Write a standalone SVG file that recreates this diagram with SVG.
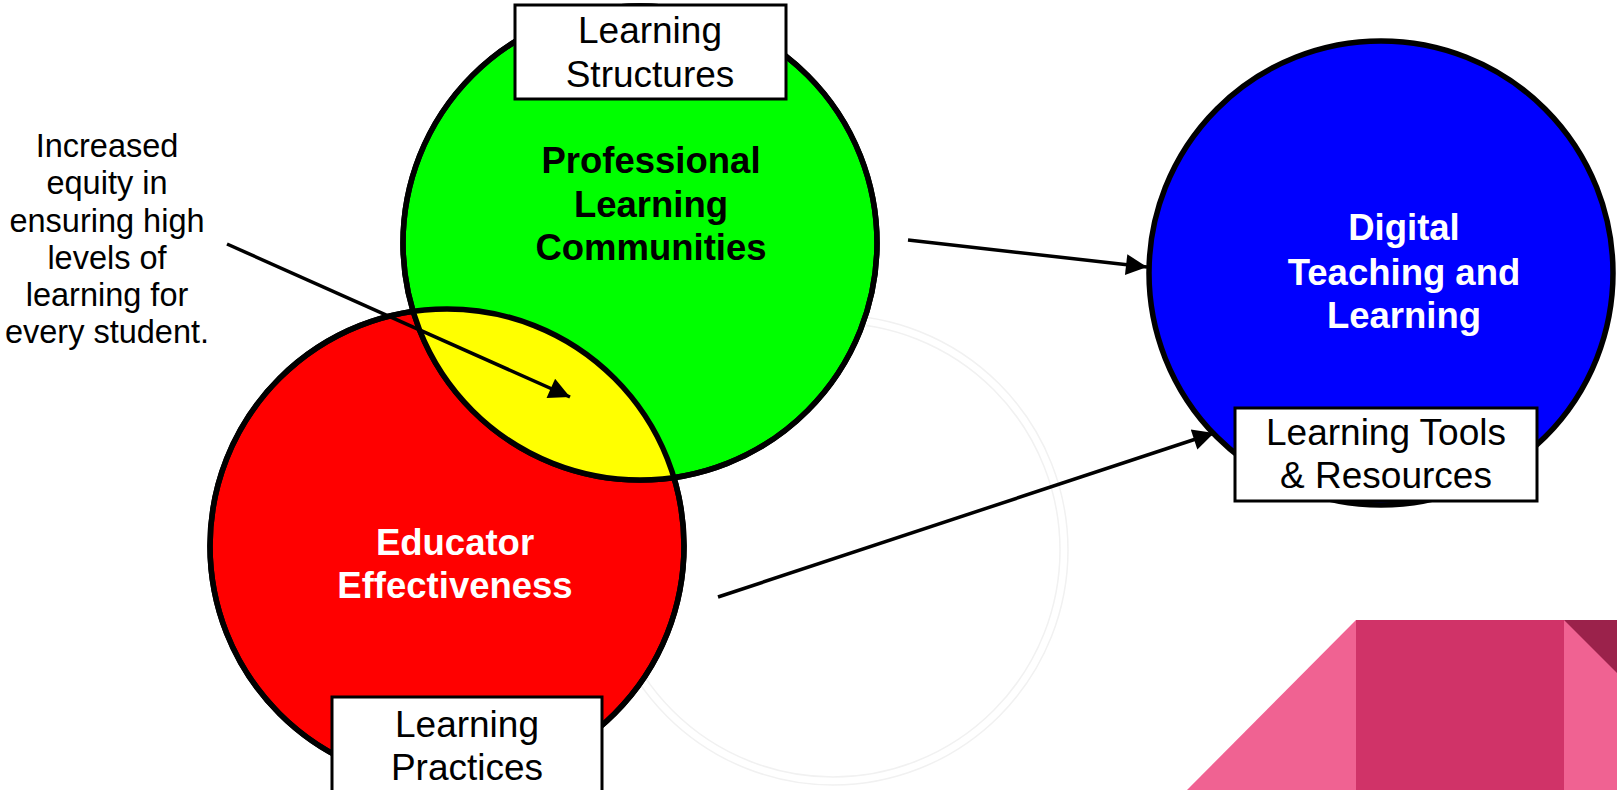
<svg xmlns="http://www.w3.org/2000/svg" width="1617" height="790" viewBox="0 0 1617 790">
<style>
  text { font-family: "Liberation Sans", Arial, sans-serif; text-anchor: middle; }
  .circ { stroke: #000; stroke-width: 5.5; }
  .outline { fill: none; stroke: #000; stroke-width: 5.5; }
  .box { fill: #fff; stroke: #000; stroke-width: 3; }
  .lbl { font-size: 37px; fill: #000; }
  .title { font-size: 36.5px; font-weight: bold; }
  .note { font-size: 32.5px; fill: #000; }
  .conn { stroke: #000; stroke-width: 3.5; fill: none; marker-end: url(#arrow); }
  .ghost { fill: none; stroke: #f1f1f1; stroke-width: 1.5; }
</style>
<defs>
  <marker id="arrow" viewBox="0 0 10 10" refX="10" refY="5" markerWidth="8" markerHeight="6" markerUnits="strokeWidth" orient="auto">
    <path d="M0,0 L10,5 L0,10 z" fill="#000"/>
  </marker>
  <clipPath id="clipRed"><circle cx="447" cy="546" r="237"/></clipPath>
</defs>
<rect width="1617" height="790" fill="#fff"/>

<g id="decor">
  <circle class="ghost" cx="833" cy="550" r="227"/>
  <circle class="ghost" cx="833" cy="550" r="235" stroke="#f6ecec"/>
  <polygon points="1187,790 1356,620 1356,790" fill="#F06292"/>
  <rect x="1356" y="620" width="208" height="170" fill="#D03368"/>
  <rect x="1564" y="620" width="53" height="170" fill="#F06292"/>
  <polygon points="1564,620 1617,620 1617,673" fill="#9B224B"/>
</g>

<g id="educator-effectiveness">
  <circle class="circ" cx="447" cy="546" r="237" fill="#ff0000"/>
</g>
<g id="professional-learning-communities">
  <circle class="circ" cx="640" cy="243" r="237" fill="#00ff00"/>
</g>
<g id="equity-overlap">
  <circle cx="640" cy="243" r="237" fill="#ffff00" clip-path="url(#clipRed)"/>
  <circle class="outline" cx="447" cy="546" r="237"/>
  <circle class="outline" cx="640" cy="243" r="237"/>
</g>
<g id="digital-teaching-learning">
  <circle class="circ" cx="1381" cy="273" r="232" fill="#0000ff"/>
  <text class="title" fill="#fff" x="1404" y="240">Digital</text>
  <text class="title" fill="#fff" x="1404" y="285">Teaching and</text>
  <text class="title" fill="#fff" x="1404" y="328">Learning</text>
</g>
<g id="plc-label">
  <text class="title" fill="#000" x="651" y="173">Professional</text>
  <text class="title" fill="#000" x="651" y="217">Learning</text>
  <text class="title" fill="#000" x="651" y="260">Communities</text>
</g>
<g id="ee-label">
  <text class="title" fill="#fff" x="455" y="555">Educator</text>
  <text class="title" fill="#fff" x="455" y="598">Effectiveness</text>
</g>

<g id="learning-structures">
  <rect class="box" x="515" y="5" width="271" height="94"/>
  <text class="lbl" x="650" y="43">Learning</text>
  <text class="lbl" x="650" y="87">Structures</text>
</g>
<g id="learning-practices">
  <rect class="box" x="332" y="697" width="270" height="95"/>
  <text class="lbl" x="467" y="737">Learning</text>
  <text class="lbl" x="467" y="780">Practices</text>
</g>
<g id="learning-tools">
  <rect class="box" x="1235" y="408" width="302" height="93"/>
  <text class="lbl" x="1386" y="445">Learning Tools</text>
  <text class="lbl" x="1386" y="488">&amp; Resources</text>
</g>

<g id="equity-note">
  <text class="note" x="107" y="157">Increased</text>
  <text class="note" x="107" y="194">equity in</text>
  <text class="note" x="107" y="232">ensuring high</text>
  <text class="note" x="107" y="269">levels of</text>
  <text class="note" x="107" y="306">learning for</text>
  <text class="note" x="107" y="343">every student.</text>
</g>

<g id="connectors">
  <line class="conn" x1="227" y1="244" x2="570" y2="397"/>
  <line class="conn" x1="908" y1="240" x2="1147" y2="267"/>
  <line class="conn" x1="718" y1="597" x2="1214" y2="433"/>
</g>
</svg>
